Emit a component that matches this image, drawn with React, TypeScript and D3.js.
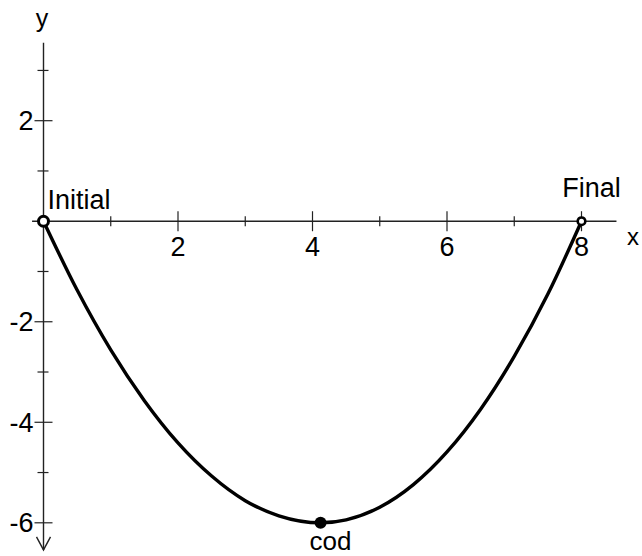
import React from "react";
import * as d3 from "d3";

// ---- data ----
const curveX = [0, 0.5, 1.0, 1.5, 2.0, 2.5, 3.0, 3.5, 4.12, 4.5, 5.0, 5.5, 6.0, 6.5, 7.0, 7.5, 8.0];
const curveY = [0, -1.37, -2.56, -3.57, -4.41, -5.07, -5.56, -5.86, -6.0, -5.94, -5.69, -5.24, -4.59, -3.74, -2.69, -1.45, 0];

const pointNames = ["Initial", "cod", "Final"];
const pointX = [0, 4.12, 8];
const pointY = [0, -6, 0];

const xTicks = [1, 2, 3, 4, 5, 6, 7, 8];
const xTickLabels = [2, 4, 6, 8];
const yTicks = [3, 2, 1, -1, -2, -3, -4, -5, -6];
const yTickLabels = [2, -2, -4, -6];

const W = 642;
const H = 556;
const FONT = "'Liberation Sans', Arial, Helvetica, sans-serif";

export default function App() {
  const x = d3.scaleLinear().domain([0, 8]).range([43.5, 581.5]);
  const y = d3.scaleLinear().domain([-6, 2]).range([522.8, 120.7]);

  const pts: [number, number][] = curveX.map((v, i) => [v, curveY[i]]);
  const line = d3
    .line<[number, number]>()
    .x((d) => x(d[0]))
    .y((d) => y(d[1]))
    .curve(d3.curveMonotoneX);

  const x0 = x(0);
  const y0 = y(0);
  const axisColor = "#222";
  const FS = 27;

  return (
    <svg
      width={W}
      height={H}
      style={{ position: "absolute", left: 0, top: 0, background: "#fff" }}
      fontFamily={FONT}
    >
      {/* x axis */}
      <line x1={x(-0.17)} x2={x(8.52)} y1={y0} y2={y0} stroke={axisColor} strokeWidth={1.4} />
      {xTicks.map((t) => {
        const major = t % 2 === 0;
        return (
          <line
            key={"xt" + t}
            x1={x(t)}
            x2={x(t)}
            y1={y0 - (major ? 10 : 5)}
            y2={y0 + (major ? 10 : 5)}
            stroke={axisColor}
            strokeWidth={1.2}
          />
        );
      })}
      {xTickLabels.map((t) => (
        <text key={"xl" + t} x={x(t)} y={y0 + 34.5} fontSize={FS} textAnchor="middle" fill="#000">
          {t}
        </text>
      ))}
      <text x={633} y={244.5} fontSize={24} textAnchor="middle" fill="#000">
        x
      </text>

      {/* y axis */}
      <line x1={x0} x2={x0} y1={y(3.55)} y2={y(-6.54)} stroke={axisColor} strokeWidth={1.4} />
      <path
        d={`M${x0 - 7},${y(-6.54) - 13} L${x0},${y(-6.54)} L${x0 + 7},${y(-6.54) - 13}`}
        fill="none"
        stroke={axisColor}
        strokeWidth={1.4}
      />
      {yTicks.map((t) => {
        const major = t % 2 === 0;
        return (
          <line
            key={"yt" + t}
            x1={x0 - (major ? 9 : 6)}
            x2={x0 + (major ? 9 : 5)}
            y1={y(t)}
            y2={y(t)}
            stroke={axisColor}
            strokeWidth={1.2}
          />
        );
      })}
      {yTickLabels.map((t) => (
        <text key={"yl" + t} x={33.5} y={y(t) + 9.5} fontSize={FS} textAnchor="end" fill="#000">
          {t}
        </text>
      ))}
      <text x={42} y={27} fontSize={25} textAnchor="middle" fill="#000">
        y
      </text>

      {/* curve */}
      <path d={line(pts) || ""} fill="none" stroke="#000" strokeWidth={3.4} />

      {/* points */}
      <circle cx={x(pointX[0])} cy={y(pointY[0])} r={5} fill="#fff" stroke="#000" strokeWidth={3} />
      <circle cx={x(pointX[2])} cy={y(pointY[2])} r={3.8} fill="#fff" stroke="#000" strokeWidth={2.6} />
      <circle cx={x(pointX[1])} cy={y(pointY[1])} r={6} fill="#000" />

      <text x={x(pointX[0]) + 4} y={y(pointY[0]) - 12} fontSize={FS} textAnchor="start" fill="#000">
        {pointNames[0]}
      </text>
      <text x={x(pointX[1]) + 10} y={y(pointY[1]) + 27} fontSize={26} textAnchor="middle" fill="#000">
        {pointNames[1]}
      </text>
      <text x={x(pointX[2]) + 10} y={y(pointY[2]) - 24} fontSize={FS} textAnchor="middle" fill="#000">
        {pointNames[2]}
      </text>
    </svg>
  );
}
